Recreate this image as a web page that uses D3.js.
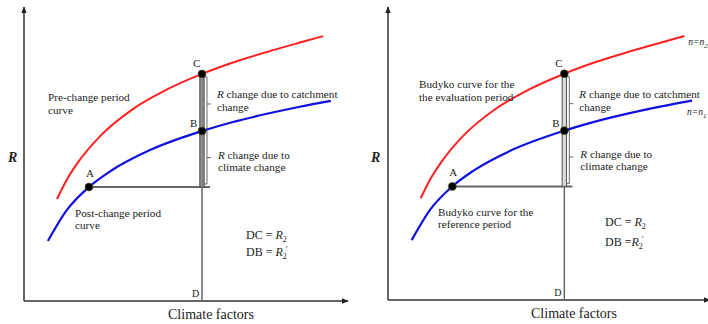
<!DOCTYPE html>
<html>
<head>
<meta charset="utf-8">
<script src="https://cdn.jsdelivr.net/npm/d3@7"></script>
<style>
  html, body { margin: 0; padding: 0; background: #fff; }
  svg { display: block; }
  text { font-family: "Liberation Serif", "Times New Roman", serif; fill: #222; }
</style>
</head>
<body>
<svg id="chart" width="708" height="324"></svg>
<script>
// Upper curve (post-change / evaluation period): climate factor vs R
const upperX = [1.02, 1.33, 1.67, 2.35, 3.37, 4.43, 5.51, 6.47, 7.52, 8.54, 9.26];
const upperR = [3.48, 4.15, 4.73, 5.62, 6.55, 7.22, 7.75, 8.14, 8.50, 8.82, 9.04];
// Lower curve (pre-change / reference period)
const lowerX = [0.74, 1.33, 2.01, 2.66, 3.90, 5.51, 6.47, 7.52, 8.54, 9.50];
const lowerR = [2.05, 3.11, 3.89, 4.42, 5.15, 5.80, 6.11, 6.39, 6.63, 6.83];
// Marked points
const pointNames = ["A", "B", "C"];
const pointX = [2.01, 5.51, 5.51];
const pointR = [3.89, 5.80, 7.75];
const dX = 5.51;

const svg = d3.select("#chart");

svg.append("defs").append("marker")
  .attr("id", "arrow").attr("viewBox", "0 0 10 10")
  .attr("refX", 9).attr("refY", 5)
  .attr("markerWidth", 7).attr("markerHeight", 7)
  .attr("markerUnits", "userSpaceOnUse")
  .attr("orient", "auto")
  .append("path").attr("d", "M0,1 L10,5 L0,9 Z").attr("fill", "#222");

function drawPanel(cfg) {
  const g = svg.append("g");
  const x = d3.scaleLinear().domain([0, 10]).range([cfg.x0, cfg.x0 + cfg.w]);
  const y = d3.scaleLinear().domain([0, 10]).range([cfg.y0, cfg.y0 - cfg.h]);

  // axes with arrowheads
  g.append("line").attr("x1", x(0)).attr("y1", y(0)).attr("x2", x(0)).attr("y2", cfg.yTop)
    .attr("stroke", "#333").attr("stroke-width", 1.5).attr("marker-end", "url(#arrow)");
  g.append("line").attr("x1", x(0)).attr("y1", y(0)).attr("x2", cfg.xEnd).attr("y2", y(0))
    .attr("stroke", "#333").attr("stroke-width", 1.5).attr("marker-end", "url(#arrow)");

  const A = { x: x(pointX[0]), y: y(pointR[0]) };
  const B = { x: x(pointX[1]), y: y(pointR[1]) };
  const C = { x: x(pointX[2]), y: y(pointR[2]) };
  const xd = x(dX);

  // thin vertical drop to D
  g.append("line").attr("x1", xd).attr("x2", xd).attr("y1", A.y).attr("y2", y(0))
    .attr("stroke", "#666").attr("stroke-width", 1.5);
  // horizontal line from A
  g.append("line").attr("x1", A.x).attr("x2", xd + 8).attr("y1", A.y).attr("y2", A.y)
    .attr("stroke", "#666").attr("stroke-width", 2);
  // thick segment between C and the level of A
  g.append("rect").attr("x", xd - 2.2).attr("y", C.y).attr("width", 4.4).attr("height", A.y - C.y)
    .attr("fill", cfg.barFill).attr("stroke", "#555").attr("stroke-width", 1);

  // brackets
  const bx = xd + 5;
  const bracket = d3.path();
  const top = C.y + 3, mid = B.y, bot = A.y - 3;
  bracket.moveTo(xd + 2, top); bracket.lineTo(bx, top); bracket.lineTo(bx, bot); bracket.lineTo(xd + 2, bot);
  bracket.moveTo(xd + 2, mid); bracket.lineTo(bx, mid);
  bracket.moveTo(bx, (top + mid) / 2); bracket.lineTo(bx + 4, (top + mid) / 2);
  bracket.moveTo(bx, (mid + bot) / 2); bracket.lineTo(bx + 4, (mid + bot) / 2);
  g.append("path").attr("d", bracket.toString()).attr("fill", "none")
    .attr("stroke", "#666").attr("stroke-width", 1);

  const line = d3.line().x(d => x(d[0])).y(d => y(d[1])).curve(d3.curveMonotoneX);
  g.append("path").datum(upperX.map((v, i) => [v, upperR[i]]))
    .attr("d", line).attr("fill", "none").attr("stroke", "#ff2020").attr("stroke-width", 2);
  g.append("path").datum(lowerX.map((v, i) => [v, lowerR[i]]))
    .attr("d", line).attr("fill", "none").attr("stroke", "#1010e0").attr("stroke-width", 2.2);

  g.selectAll("circle.pt").data(pointNames).enter().append("circle")
    .attr("cx", (d, i) => x(pointX[i])).attr("cy", (d, i) => y(pointR[i])).attr("r", 4)
    .attr("fill", "#000").attr("stroke", "#5a6a2a").attr("stroke-width", 0.6);

  const txt = (tx, ty, s, size) => g.append("text").attr("x", tx).attr("y", ty)
    .attr("font-size", size || 11).text(s);

  txt(C.x - 9, C.y - 7, "C", 11);
  txt(B.x - 12, B.y - 4, "B", 11);
  txt(A.x - 3, A.y - 10, "A", 11);
  txt(xd - 10, y(0) - 4, "D", 10);

  // R change labels
  const r1 = g.append("text").attr("x", xd + 15).attr("y", (top + mid) / 2 - 6).attr("font-size", 11.2);
  r1.append("tspan").attr("font-style", "italic").text("R");
  r1.append("tspan").text(" change due to catchment");
  txt(xd + 15, (top + mid) / 2 + 7, "change", 11.2);
  const r2 = g.append("text").attr("x", xd + 16).attr("y", (mid + bot) / 2 + 1).attr("font-size", 11.2);
  r2.append("tspan").attr("font-style", "italic").text("R");
  r2.append("tspan").text(" change due to");
  txt(xd + 16, (mid + bot) / 2 + 13, "climate change", 11.2);

  cfg.upperLabel.forEach((s, i) => txt(cfg.upperLabelX, cfg.upperLabelY + i * 13, s, 11.2));
  cfg.lowerLabel.forEach((s, i) => txt(cfg.lowerLabelX, cfg.lowerLabelY + i * 12, s, 11.2));

  // formulas
  const f1 = g.append("text").attr("x", cfg.fx).attr("y", cfg.fy1).attr("font-size", 12);
  f1.append("tspan").text(cfg.eq1);
  f1.append("tspan").attr("font-style", "italic").text("R");
  f1.append("tspan").attr("font-size", 8).attr("dy", 3).text("2");
  const f2 = g.append("text").attr("x", cfg.fx).attr("y", cfg.fy2).attr("font-size", 12);
  f2.append("tspan").text(cfg.eq2);
  f2.append("tspan").attr("font-style", "italic").text("R");
  f2.append("tspan").attr("font-size", 8).attr("dy", 3).text("2");
  f2.append("tspan").attr("font-size", 9).attr("dy", -7).attr("dx", -1).text("\u2032");

  // axis titles
  g.append("text").attr("x", cfg.titleX).attr("y", cfg.titleY)
    .attr("text-anchor", "middle").attr("font-size", 14).text("Climate factors");
  g.append("text").attr("x", cfg.rX).attr("y", 162).attr("font-size", 14)
    .attr("font-weight", "bold").attr("font-style", "italic").text("R");

  return { g, x, y };
}

drawPanel({
  x0: 24, y0: 301, w: 323, h: 293, yTop: 7, xEnd: 348, barFill: "#8a8a8a",
  upperLabel: ["Pre-change period", "curve"], upperLabelX: 48, upperLabelY: 101,
  lowerLabel: ["Post-change period", "curve"], lowerLabelX: 75, lowerLabelY: 217,
  fx: 246, fy1: 239, fy2: 256, eq1: "DC = ", eq2: "DB = ",
  titleX: 211, titleY: 319, rX: 8
});

const right = drawPanel({
  x0: 388, y0: 300, w: 320, h: 292, yTop: 7, xEnd: 710, barFill: "#d8d8d8",
  upperLabel: ["Budyko curve for the", "the evaluation period"], upperLabelX: 419, upperLabelY: 88,
  lowerLabel: ["Budyko curve for the", "reference period"], lowerLabelX: 438, lowerLabelY: 216,
  fx: 605, fy1: 226, fy2: 246, eq1: "DC = ", eq2: "DB =",
  titleX: 574, titleY: 318, rX: 371
});

// curve parameter labels at the right ends
function nLabel(px, py, sub) {
  const t = right.g.append("text").attr("x", px).attr("y", py).attr("font-size", 9.5)
    .attr("font-style", "italic").attr("fill", "#444");
  t.append("tspan").text("n=n");
  t.append("tspan").attr("font-size", 7).attr("dy", 3).text(sub);
}
nLabel(right.x(upperX[upperX.length - 1]) + 4, right.y(upperR[upperR.length - 1]) + 9, "2");
nLabel(right.x(lowerX[lowerX.length - 1]) - 5, right.y(lowerR[lowerR.length - 1]) + 14, "1");
</script>
</body>
</html>
